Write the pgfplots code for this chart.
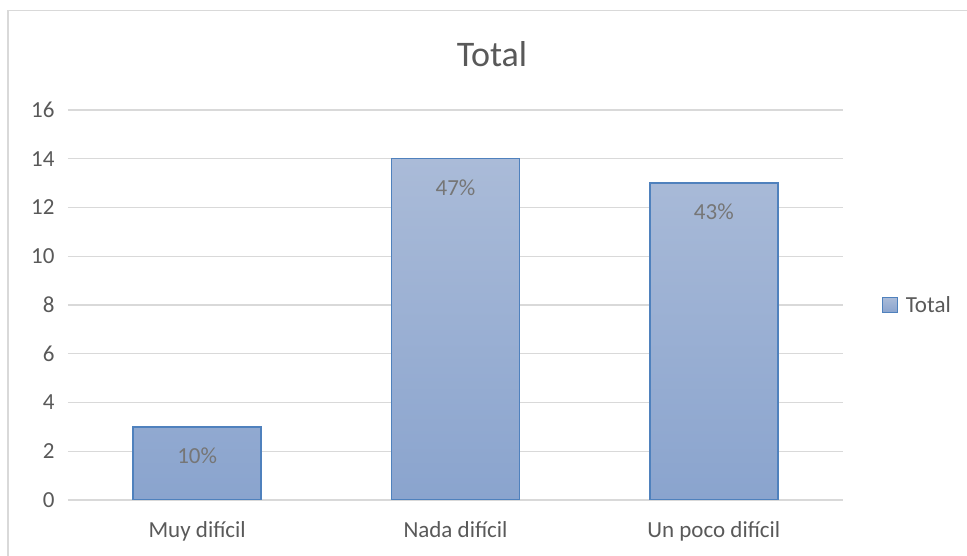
\documentclass[border=0pt]{standalone}
\usepackage{pgfplots}
\pgfplotsset{compat=1.18}
\usepackage{fontspec}
\setmainfont{Carlito}
\definecolor{txt}{RGB}{89,89,89}
\definecolor{lbl}{RGB}{118,118,118}
\definecolor{gridc}{RGB}{217,217,217}
\definecolor{edge}{RGB}{79,129,189}
\definecolor{topc}{RGB}{170,187,216}
\definecolor{botc}{RGB}{138,164,206}
\begin{document}
\begin{tikzpicture}[x=1pt,y=1pt]
\path[use as bounding box] (0,0) rectangle (967,556);
\draw[gridc, line width=1.5pt] (8,0) -- (8,545.5) -- (967,545.5);
\node[anchor=base, text=txt, font=\fontsize{36}{40}\selectfont] at (492,489) {Total};
\begin{axis}[
  at={(68pt,56pt)}, anchor=south west,
  scale only axis, width=775pt, height=390pt,
  xmin=-0.5, xmax=2.5, ymin=0, ymax=16,
  ytick={0,2,...,16},
  xtick={0,1,2},
  xticklabels={Muy difícil, Nada difícil, Un poco difícil},
  ymajorgrids, grid style={gridc, line width=1.3pt},
  axis line style={draw=none},
  tick style={draw=none},
  yticklabel style={text=txt, font=\fontsize{23}{26}\selectfont, /pgf/number format/assume math mode=true},
  xticklabel style={text=txt, font=\fontsize{23}{26}\selectfont},
  yticklabel shift=10pt,
  xticklabel shift=18pt,
  legend style={at={(1,0.5)}, anchor=west, xshift=36pt, draw=none, fill=none,
    font=\fontsize{23}{26}\selectfont, text=txt},
  legend image code/.code={\draw[edge, line width=1.2pt, fill=topc] (0pt,-7.5pt) rectangle (15pt,7.5pt); \path[draw=none, fill=none] (0pt,0pt) -- (21pt,0pt);},
  nodes near coords,
  point meta=explicit symbolic,
  every node near coord/.style={anchor=center, yshift=-29pt, text=lbl, font=\fontsize{23}{26}\selectfont},
]
\addplot[ybar, bar width=128pt, draw=edge, line width=1.5pt, top color=topc, bottom color=botc]
  coordinates {(0,3) [10\%] (1,14) [47\%] (2,13) [43\%]};
\addlegendentry{Total}
\end{axis}
\end{tikzpicture}
\end{document}
